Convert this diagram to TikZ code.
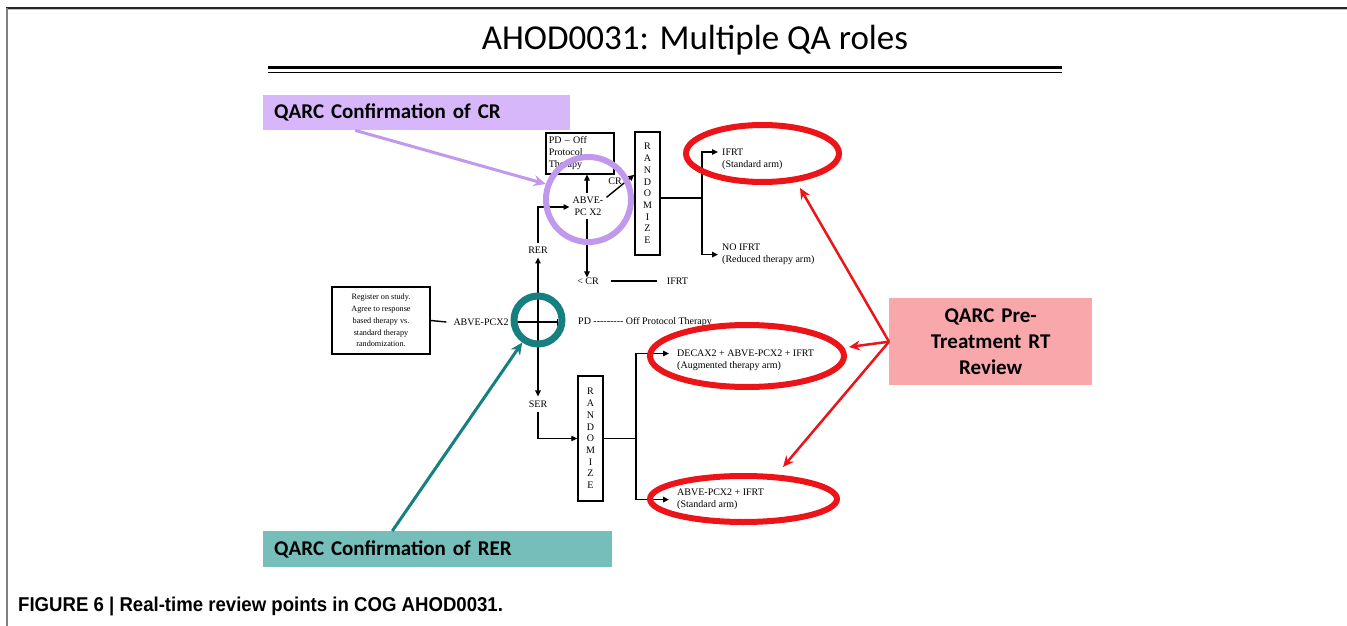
\documentclass[tikz,border=0pt]{standalone}
\usepackage{fontspec}
\newfontfamily\flowfont{Liberation Serif}
\newfontfamily\calfont{Carlito}
\newfontfamily\capfont[FakeStretch=0.93]{Liberation Sans}
\usetikzlibrary{arrows.meta,shapes.geometric,calc}
\definecolor{lav}{RGB}{215,183,250}
\definecolor{lavline}{RGB}{192,152,238}
\definecolor{tealc}{RGB}{22,128,128}
\definecolor{tealbox}{RGB}{118,190,186}
\definecolor{pinkbox}{RGB}{248,168,170}
\definecolor{redc}{RGB}{235,20,25}
\begin{document}
\begin{tikzpicture}[x=1pt,y=-1pt,
  flow/.style={font=\flowfont\fontsize{10}{12}\selectfont, inner sep=0pt},
  fbox/.style={draw, line width=1.5pt, inner sep=0pt},
  farr/.style={line width=1.4pt, -{Triangle[length=6pt,width=5.5pt]}},
  fline/.style={line width=1.4pt},
  qfont/.style={font=\calfont\bfseries\fontsize{21}{26}\selectfont},
  qbox/.style={qfont, anchor=north west, inner ysep=0pt},
  randbox/.style={fbox, minimum width=25pt, align=center, font=\flowfont\fontsize{10}{11.7}\selectfont},
  redell/.style={draw=redc, line width=6pt, ellipse, inner sep=0pt},
  redarr/.style={draw=redc, line width=2.5pt, -{Stealth[length=11pt,width=10pt]}},
  colarr/.style={line width=3pt, -{Stealth[length=12pt,width=11pt]}}
]
\path[use as bounding box] (0,0) rectangle (1347,626);
% frame
\draw[line width=1.5pt, black!85] (6,8) -- (1347,8);
\draw[line width=1pt, black!25] (6,9.6) -- (1347,9.6);
\draw[line width=1.4pt, gray] (7,8) -- (7,626);
% title
\node[font=\calfont\fontsize{35}{40}\selectfont, inner sep=0pt] (title) at (695,40) {AHOD0031: Multiple QA roles};
\draw[line width=3pt] (268,68) -- (1062,68);
\draw[line width=1pt] (268,72.5) -- (1062,72.5);
% QARC boxes
\node[qbox, fill=lav, minimum width=307pt, minimum height=35pt, text width=285pt, inner xsep=11pt, align=left] (qcr) at (263,95) {QARC Confirmation of CR};
\node[qbox, fill=tealbox, minimum width=349pt, minimum height=36pt, text width=327pt, inner xsep=11pt, align=left] (qrer) at (263,531) {QARC Confirmation of RER};
\node[qfont, fill=pinkbox, minimum width=203pt, minimum height=87pt, text width=200pt, inner sep=0pt, align=center, anchor=north west] (qpre) at (889,298) {QARC Pre-\\Treatment RT\\Review};
% flowchart
\node[fbox, flow, minimum width=98pt, minimum height=67pt, align=center, font=\flowfont\fontsize{8.2}{11.8}\selectfont] (reg) at (381,320.5) {Register on study.\\Agree to response\\based therapy vs.\\standard therapy\\randomization.};
\node[flow, inner xsep=7pt] (ab1) at (481,322) {ABVE-PCX2};
\coordinate (cross) at (538,322);
\coordinate (crossR) at (558,322);
\draw[fline] (reg.east) -- (ab1.west);
\draw[fline, -{Bar[width=7pt]}] (ab1.east) -- (crossR);
\node[flow, anchor=west] (pd) at (578,322) {PD --------- Off Protocol Therapy};
\node[flow, inner ysep=4pt] (rer) at (538,250) {RER};
\node[flow, inner ysep=4pt] (ser) at (538,404) {SER};
\node[flow, align=center, inner sep=3pt] (ab2) at (588,206) {ABVE-\\PC X2};
\node[fbox, flow, anchor=north west, minimum width=68pt, minimum height=41pt, text width=62pt, inner xsep=3pt, align=left] (pdbox) at (545,132) {PD – Off\\Protocol\\Therapy};
\node[flow, inner sep=0pt] (lcr) at (588,281) {< CR};
\node[flow] (ifrt0) at (677.5,281) {IFRT};
\node[flow] (crl) at (615,181) {CR};
\node[randbox, minimum height=123pt] (rand1) at (647.5,193.5) {R\\A\\N\\D\\O\\M\\I\\Z\\E};
\node[randbox, minimum height=125pt] (rand2) at (590.5,438.5) {R\\A\\N\\D\\O\\M\\I\\Z\\E};
\node[flow, anchor=north west, align=left] (ifrt1) at (722,148.5) {IFRT\\(Standard arm)};
\node[flow, anchor=north west, align=left] (noifrt) at (722,244) {NO IFRT\\(Reduced therapy arm)};
\node[flow, anchor=north west, align=left] (deca) at (677,350) {DECAX2 + ABVE-PCX2 + IFRT\\(Augmented therapy arm)};
\node[flow, anchor=north west, align=left] (abstd) at (677,489) {ABVE-PCX2 + IFRT\\(Standard arm)};
% connectors
\draw[farr] (cross) -- (rer.south);
\draw[farr] (cross) -- (ser.north);
\draw[farr] (rer.north) |- ($(ab2.west)+(0,1)$);
\draw[farr] (ab2.north -| 587,0) -- (pdbox.south -| 587,0);
\draw[farr] (ab2.south -| 587,0) -- (lcr.north -| 587,0);
\draw[fline] ($(lcr.east)+(12,0)$) -- ($(ifrt0.west)+(-10,0)$);
\draw[farr] (ab2.25) -- ($(rand1.north west)!0.35!(rand1.south west)$);
\coordinate (j1) at (702,198);
\draw[fline] (rand1.east |- j1) -- (j1);
\draw[farr] (j1) |- ($(ifrt1.north west)+(-4,3.5)$);
\draw[farr] (j1) |- ($(noifrt.west)+(-4,0)$);
\coordinate (j2) at (636,438.5);
\draw[farr] (ser.south) |- (rand2.west);
\draw[fline] (rand2.east) -- (j2);
\draw[farr] (j2) |- ($(deca.north west)+(-8,3.5)$);
\draw[farr] (j2) |- ($(abstd.west)+(-8,0)$);
% highlight rings
\node[draw=lavline, line width=6pt, circle, minimum size=85pt, inner sep=0pt] (pc) at (588.5,199.5) {};
\node[draw=tealc, line width=7pt, circle, minimum size=48pt, inner sep=0pt] (tc) at (538,320) {};
\node[redell, minimum width=153pt, minimum height=57pt] (e1) at (762.5,153.5) {};
\node[redell, minimum width=194pt, minimum height=62pt] (e2) at (747,356) {};
\node[redell, minimum width=187pt, minimum height=46pt] (e3) at (743.5,499) {};
% callout arrows
\draw[colarr, draw=lavline, color=lavline] ($(qcr.south west)!0.3!(qcr.south east)$) -- (pc.160);
\draw[colarr, draw=tealc, color=tealc] ($(qrer.north west)!0.37!(qrer.north east)$) -- (tc.235);
\coordinate (t1) at (800,188);
\coordinate (t2) at (849,347);
\coordinate (t3) at (783,467);
\draw[redarr, color=redc] (qpre.west) -- (t1);
\draw[redarr, color=redc] (qpre.west) -- (t2);
\draw[redarr, color=redc] (qpre.west) -- (t3);
% caption
\node[anchor=base west, font=\capfont\bfseries\fontsize{20}{24}\selectfont, inner sep=0pt] (cap) at (18,611) {FIGURE 6 | Real-time review points in COG AHOD0031.};
\end{tikzpicture}
\end{document}
